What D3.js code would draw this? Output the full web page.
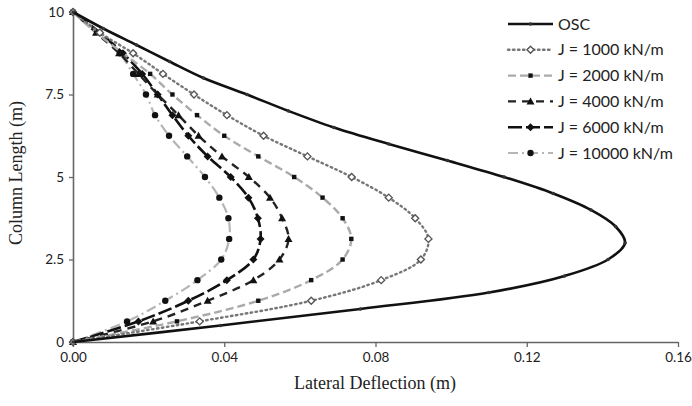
<!DOCTYPE html>
<html><head><meta charset="utf-8">
<script src="https://cdn.jsdelivr.net/npm/d3@7"></script>
<style>body{margin:0;background:#fff}svg{display:block}</style>
</head><body>
<svg id="c" width="692" height="406"></svg>
<script>
// Heights (m) for OSC markers (0.5 m spacing) and for J series (0.625 m spacing)
const oscHeights = [0,0.5,1,1.5,2,2.5,3,3.5,4,4.5,5,5.5,6,6.5,7,7.5,8,8.5,9,9.5,10];
const oscDefl    = [0,0.039,0.076,0.110,0.130,0.1415,0.146,0.1435,0.137,0.127,0.114,0.099,0.0835,0.069,0.057,0.046,0.0345,0.0255,0.0168,0.008,0];
const jHeights = [0,0.625,1.25,1.875,2.5,3.125,3.75,4.375,5,5.625,6.25,6.875,7.5,8.125,8.75,9.375,10];
const j1000  = [0,0.0335,0.063,0.0815,0.092,0.094,0.0905,0.0835,0.0737,0.062,0.0504,0.0407,0.032,0.0238,0.0159,0.0071,0];
const j2000  = [0,0.0275,0.049,0.063,0.0713,0.0736,0.0713,0.066,0.0585,0.049,0.040,0.0328,0.0263,0.0204,0.0132,0.0061,0];
const j4000  = [0,0.0212,0.0356,0.0477,0.0546,0.057,0.0553,0.0521,0.0465,0.0394,0.0332,0.0279,0.0224,0.0173,0.0122,0.0061,0];
const j6000  = [0,0.0173,0.0305,0.0407,0.0477,0.0496,0.0489,0.0464,0.0417,0.0356,0.0305,0.0263,0.0224,0.0183,0.0132,0.0071,0];
const j10000 = [0,0.0143,0.0244,0.0329,0.0392,0.0413,0.0411,0.0387,0.0349,0.0302,0.0254,0.0217,0.0193,0.0159,0.0124,0.0071,0];
const seriesNames = ["OSC","J = 1000 kN/m","J = 2000 kN/m","J = 4000 kN/m","J = 6000 kN/m","J = 10000 kN/m"];
const xTicks = [0,0.04,0.08,0.12,0.16];
const yTicks = [0,2.5,5,7.5,10];

const svg = d3.select("#c");
const x = d3.scaleLinear().domain([0,0.16]).range([73,678]);
const y = d3.scaleLinear().domain([0,10]).range([342,12]);

const styles = [
  {stroke:"#111", width:2.6, dash:null, marker:"dot", mcol:"#333"},
  {stroke:"#777", width:2.4, dash:"1.5,3.5", cap:"round", marker:"odiamond", mcol:"#555"},
  {stroke:"#aaa", width:2.4, dash:"8,4", marker:"square", mcol:"#111"},
  {stroke:"#222", width:2.4, dash:"8,6", marker:"triangle", mcol:"#111"},
  {stroke:"#111", width:2.6, dash:"14,4", marker:"diamond", mcol:"#111"},
  {stroke:"#b5b5b5", width:2.2, dash:"10,4,2,4", marker:"circle", mcol:"#111"}
];
const data = [
  oscHeights.map((h,i)=>[oscDefl[i],h]),
  jHeights.map((h,i)=>[j1000[i],h]),
  jHeights.map((h,i)=>[j2000[i],h]),
  jHeights.map((h,i)=>[j4000[i],h]),
  jHeights.map((h,i)=>[j6000[i],h]),
  jHeights.map((h,i)=>[j10000[i],h])
];

// axes
const xAxis = svg.append("g").attr("transform","translate(0,342)")
  .call(d3.axisBottom(x).tickValues(xTicks).tickFormat(d3.format(".2f")).tickSize(5).tickSizeOuter(0));
const yAxis = svg.append("g").attr("transform","translate(73,0)")
  .call(d3.axisLeft(y).tickValues(yTicks).tickFormat(d=>d).tickSize(4).tickSizeOuter(0));
[xAxis,yAxis].forEach(a=>{
  a.select(".domain").attr("stroke","#666").attr("stroke-width",1.6);
  a.selectAll(".tick line").attr("stroke","#666").attr("stroke-width",1.3);
  a.selectAll("text").attr("font-family","Lato, 'Open Sans', sans-serif").attr("font-size",13.5).attr("fill","#222");
});
xAxis.selectAll("text").attr("dy","0.71em").attr("y",10);
yAxis.selectAll("text").attr("x",-9);

svg.append("text").attr("x",375).attr("y",389).attr("text-anchor","middle")
  .attr("font-family","'Liberation Serif', serif").attr("font-size",18).attr("fill","#222")
  .text("Lateral Deflection (m)");
svg.append("text").attr("transform","translate(22,173) rotate(-90)").attr("text-anchor","middle")
  .attr("font-family","'Liberation Serif', serif").attr("font-size",18).attr("fill","#222")
  .text("Column Length (m)");

const line = d3.line().x(d=>x(d[0])).y(d=>y(d[1])).curve(d3.curveCatmullRom.alpha(0.5));

function drawMarker(g, type, cx, cy, col){
  if(type==="dot") g.append("circle").attr("cx",cx).attr("cy",cy).attr("r",1.8).attr("fill",col);
  else if(type==="odiamond") g.append("path").attr("d",`M${cx},${cy-3.5}L${cx+3.5},${cy}L${cx},${cy+3.5}L${cx-3.5},${cy}Z`).attr("fill","#fff").attr("stroke",col).attr("stroke-width",1.4);
  else if(type==="square") g.append("rect").attr("x",cx-2.2).attr("y",cy-2.2).attr("width",4.4).attr("height",4.4).attr("fill",col);
  else if(type==="triangle") g.append("path").attr("d",`M${cx},${cy-4}L${cx+4},${cy+3}L${cx-4},${cy+3}Z`).attr("fill",col);
  else if(type==="diamond") g.append("path").attr("d",`M${cx},${cy-4}L${cx+4},${cy}L${cx},${cy+4}L${cx-4},${cy}Z`).attr("fill",col);
  else if(type==="circle") g.append("circle").attr("cx",cx).attr("cy",cy).attr("r",3.2).attr("fill",col);
}

// draw in reverse so OSC is on top
for(let k=data.length-1;k>=0;k--){
  const s = styles[k];
  const g = svg.append("g");
  g.append("path").attr("d",line(data[k])).attr("fill","none").attr("stroke",s.stroke)
    .attr("stroke-width",s.width).attr("stroke-dasharray",s.dash).attr("stroke-linecap",s.cap||"butt");
  data[k].forEach(d=>drawMarker(g,s.marker,x(d[0]),y(d[1]),s.mcol));
}

// legend
const lg = svg.append("g");
seriesNames.forEach((name,i)=>{
  const s = styles[i];
  const yy = 24 + i*25.8;
  lg.append("line").attr("x1",508).attr("x2",553).attr("y1",yy).attr("y2",yy).attr("stroke",s.stroke)
    .attr("stroke-width",s.width).attr("stroke-dasharray",s.dash).attr("stroke-linecap",s.cap||"butt");
  drawMarker(lg,s.marker,530.5,yy,s.mcol);
  lg.append("text").attr("x",558).attr("y",yy).attr("dy","0.35em")
    .attr("font-family","Lato, 'Open Sans', sans-serif").attr("font-size",16).attr("fill","#222").text(name);
});
</script>
</body></html>
